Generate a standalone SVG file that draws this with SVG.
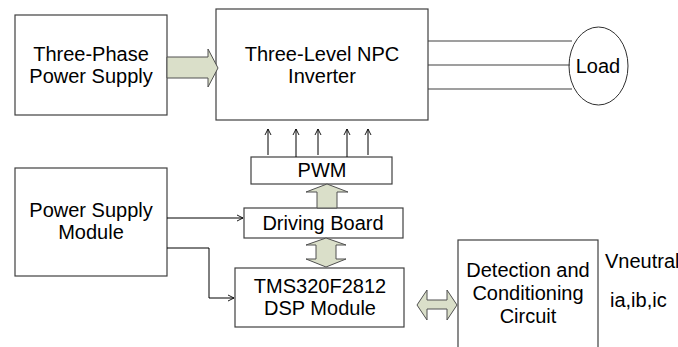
<svg xmlns="http://www.w3.org/2000/svg" width="678" height="347" viewBox="0 0 678 347">
<style>
.box{fill:#fff;stroke:#404040;stroke-width:1.2}
.t{font-family:"Liberation Sans",Arial,sans-serif;font-size:20px;fill:#000;text-anchor:middle}
.tl{font-family:"Liberation Sans",Arial,sans-serif;font-size:20px;fill:#000}
.blk{fill:#dadfc9;stroke:#505050;stroke-width:1}
.ln{fill:none;stroke:#000;stroke-width:1}
.wire{fill:none;stroke:#404040;stroke-width:1.2}
</style>
<defs>
<marker id="open" viewBox="0 0 10 10" refX="10" refY="5" markerWidth="6" markerHeight="8" markerUnits="userSpaceOnUse" orient="auto">
<path d="M0,0 L10,5 L0,10" fill="none" stroke="#000" stroke-width="1.5"/>
</marker>
</defs>
<rect width="678" height="347" fill="#fff"/>
<g id="three-phase">
<rect class="box" x="15" y="15" width="152" height="100"/>
<text class="t" x="91" y="61">Three-Phase</text>
<text class="t" x="91" y="83">Power Supply</text>
</g>
<g id="inverter">
<rect class="box" x="216" y="9" width="212" height="111"/>
<text class="t" x="322" y="61">Three-Level NPC</text>
<text class="t" x="322" y="83">Inverter</text>
</g>
<g id="load">
<ellipse cx="598.5" cy="66" rx="29.5" ry="39" fill="#fff" stroke="#303030" stroke-width="1"/>
<text class="t" x="598" y="73">Load</text>
</g>
<g id="pwm">
<rect class="box" x="251" y="157" width="141" height="27"/>
<text class="t" x="322" y="177">PWM</text>
</g>
<g id="power-module">
<rect class="box" x="15" y="168" width="152" height="108"/>
<text class="t" x="91" y="217">Power Supply</text>
<text class="t" x="91" y="239">Module</text>
</g>
<g id="driving-board">
<rect class="box" x="244" y="208" width="159" height="30"/>
<text class="t" x="323" y="230">Driving Board</text>
</g>
<g id="dsp">
<rect class="box" x="235" y="268" width="169" height="59"/>
<text class="t" x="320" y="293">TMS320F2812</text>
<text class="t" x="320" y="315">DSP Module</text>
</g>
<g id="detection">
<rect class="box" x="458" y="240" width="140" height="120"/>
<text class="t" x="528" y="277">Detection and</text>
<text class="t" x="528" y="300">Conditioning</text>
<text class="t" x="528" y="323">Circuit</text>
</g>
<g id="labels">
<text class="tl" x="605" y="268">Vneutral</text>
<text class="tl" x="610" y="307">ia,ib,ic</text>
</g>
<g id="connectors">
<polygon class="blk" points="167,57 208,57 208,49 218,68 208,87 208,78 167,78"/>
<line class="wire" x1="428" y1="41" x2="572" y2="41"/>
<line class="wire" x1="428" y1="65" x2="570" y2="65"/>
<line class="wire" x1="428" y1="89" x2="572" y2="89"/>
<line class="ln" x1="268" y1="155" x2="268" y2="129" marker-end="url(#open)"/>
<line class="ln" x1="296" y1="157" x2="296" y2="129" marker-end="url(#open)"/>
<line class="ln" x1="318" y1="155" x2="318" y2="129" marker-end="url(#open)"/>
<line class="ln" x1="347" y1="157" x2="347" y2="129" marker-end="url(#open)"/>
<line class="ln" x1="368" y1="155" x2="368" y2="129" marker-end="url(#open)"/>
<polygon class="blk" points="317,208 317,192 306,192 327,184 348,192 337,192 337,208"/>
<polygon class="blk" points="326,238 346,245 336,245 336,259 346,259 326,267 306,259 316,259 316,245 306,245"/>
<polygon class="blk" points="417,305 427,290 427,300 447,300 447,290 457,305 447,320 447,309 427,309 427,320"/>
<line class="ln" x1="167" y1="218" x2="243" y2="218" marker-end="url(#open)"/>
<polyline class="ln" points="167,248 209,248 209,298 234,298" marker-end="url(#open)"/>
</g>
</svg>
